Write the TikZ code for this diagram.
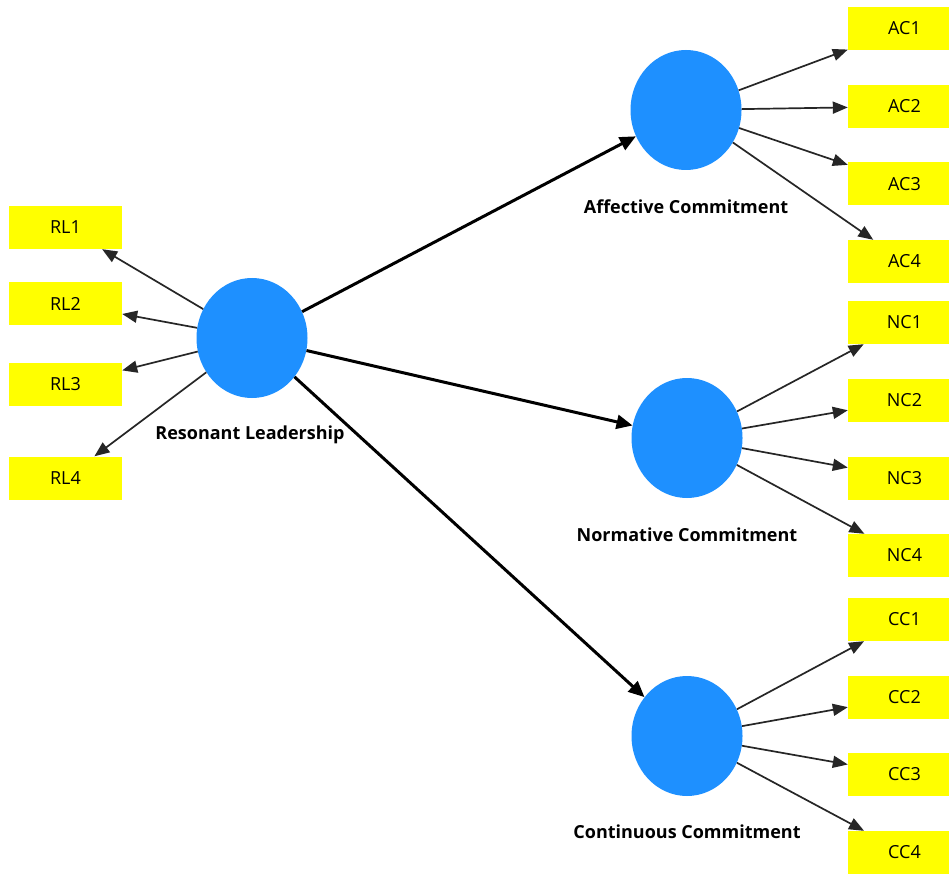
\documentclass[tikz,border=0pt]{standalone}
\usepackage{fontspec}
\setmainfont{Open Sans}
\usetikzlibrary{shapes.geometric,arrows.meta}
\definecolor{lvblue}{RGB}{30,144,255}
\definecolor{indyel}{RGB}{255,255,0}
\begin{document}
\begin{tikzpicture}[x=1pt,y=-1pt,
  latent/.style={ellipse,fill=lvblue,draw=none,minimum width=111pt,minimum height=120pt,inner sep=0pt},
  indbox/.style={rectangle,fill=indyel,draw=none,minimum width=113pt,minimum height=43pt,inner sep=0pt,font=\fontsize{18}{20}\selectfont},
  lvlabel/.style={font=\fontsize{18}{20}\selectfont\bfseries,inner sep=0pt},
  pathline/.style={-{Triangle[length=16pt,width=14pt]},line width=3pt,black},
  loadline/.style={-{Triangle[length=15pt,width=12pt]},line width=1.7pt,black!85}]
\useasboundingbox (0,0) rectangle (949,874);
\clip (0,0) rectangle (949,874);
\fill[white] (0,0) rectangle (949,874);
% latent variables
\node[latent] (rl) at (252,338) {};
\node[latent] (ac) at (686,110) {};
\node[latent] (nc) at (687,438) {};
\node[latent] (cc) at (687,736) {};
% labels
\node[lvlabel] (rllab) at (250,435) {Resonant Leadership};
\node[lvlabel] (aclab) at (686,207) {Affective Commitment};
\node[lvlabel] (nclab) at (687,535) {Normative Commitment};
\node[lvlabel] (cclab) at (687,832) {Continuous Commitment};
% indicators
\node[indbox] (rl1) at (65.5,227.5) {RL1};
\node[indbox] (rl2) at (65.5,303.5) {RL2};
\node[indbox] (rl3) at (65.5,384.5) {RL3};
\node[indbox] (rl4) at (65.5,478) {RL4};
\node[indbox] (ac1) at (904.5,28.5) {AC1};
\node[indbox] (ac2) at (904.5,106.5) {AC2};
\node[indbox] (ac3) at (904.5,184) {AC3};
\node[indbox] (ac4) at (904.5,261.5) {AC4};
\node[indbox] (nc1) at (904.5,322.5) {NC1};
\node[indbox] (nc2) at (904.5,400.5) {NC2};
\node[indbox] (nc3) at (904.5,478) {NC3};
\node[indbox] (nc4) at (904.5,555.5) {NC4};
\node[indbox] (cc1) at (904.5,619.5) {CC1};
\node[indbox] (cc2) at (904.5,697) {CC2};
\node[indbox] (cc3) at (904.5,774.5) {CC3};
\node[indbox] (cc4) at (904.5,852.5) {CC4};
% structural paths
\draw[pathline] (rl) -- (ac);
\draw[pathline] (rl) -- (nc);
\draw[pathline] (rl) -- (cc);
% loadings
\foreach \i in {1,...,4}{
  \draw[loadline] (rl) -- (rl\i);
  \draw[loadline] (ac) -- (ac\i);
  \draw[loadline] (nc) -- (nc\i);
  \draw[loadline] (cc) -- (cc\i);
}
\end{tikzpicture}
\end{document}
